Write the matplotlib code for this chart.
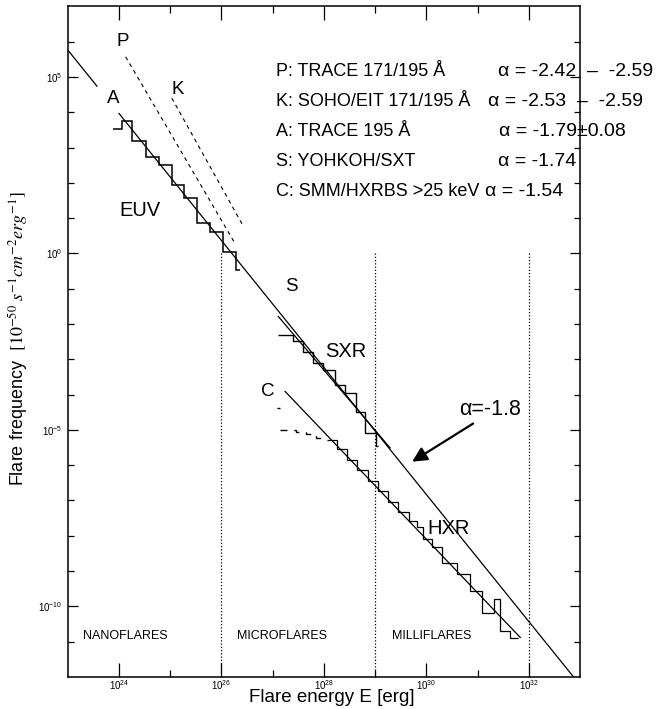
import numpy as np
import matplotlib
matplotlib.use("Agg")
import matplotlib.pyplot as plt
from matplotlib.ticker import FixedLocator, NullFormatter, FixedFormatter

plt.rcParams['font.family'] = ['Liberation Sans', 'DejaVu Sans']
plt.rcParams['mathtext.fontset'] = 'custom'
plt.rcParams['mathtext.rm'] = 'Liberation Sans'
plt.rcParams['mathtext.it'] = 'Liberation Sans:italic'
plt.rcParams['mathtext.bf'] = 'Liberation Sans:bold'

# ---------------- data (log10 energy [erg], log10 frequency) ----------------
# A: TRACE 195 A histogram
A_EDGES = [23.89, 24.05, 24.26, 24.52, 24.78, 25.03, 25.27, 25.52, 25.78, 26.03, 26.28, 26.36]
A_LOGN = [3.52, 3.76, 3.17, 2.73, 2.51, 1.94, 1.58, 0.86, 0.62, 0.05, -0.46]

# S: Yohkoh/SXT histogram
S_EDGES = [27.11, 27.40, 27.60, 27.79, 27.99, 28.21, 28.41, 28.62, 28.80, 29.01, 29.06]
S_LOGN = [-2.32, -2.49, -2.78, -3.10, -3.29, -3.72, -3.95, -4.50, -5.09, -5.47]

# C: SMM/HXRBS histogram (incomplete low-energy part, dashed)
C_FIRST_EDGES = [27.09, 27.15]
C_FIRST_LOGN = [-4.39]
C_DASH_EDGES = [27.15, 27.45, 27.65, 27.85, 28.05]
C_DASH_LOGN = [-4.99, -5.06, -5.12, -5.22]
C_EDGES = [28.05, 28.25, 28.45, 28.65, 28.85, 29.05, 29.25, 29.45, 29.65, 29.81,
           29.94, 30.10, 30.30, 30.59, 30.85, 31.08, 31.31, 31.43, 31.63, 31.79]
C_LOGN = [-5.28, -5.55, -5.86, -6.14, -6.46, -6.74, -7.05, -7.33, -7.58, -7.75,
          -8.08, -8.31, -8.77, -9.08, -9.55, -10.18, -9.80, -10.69, -10.89]

# power-law fit lines (end points)
ALPHA_LINE1_E = [23.0, 23.57]
ALPHA_LINE1_N = [5.763, 4.737]
ALPHA_LINE2_E = [24.0, 32.87]
ALPHA_LINE2_N = [3.963, -12.0]
P_LINE_E = [24.13, 26.26]
P_LINE_N = [5.57, 0.29]
K_LINE_E = [25.03, 26.43]
K_LINE_N = [4.40, 0.76]
S_LINE_E = [27.11, 29.29]
S_LINE_N = [-1.79, -5.51]
C_LINE_E = [27.24, 31.83]
C_LINE_N = [-3.91, -10.88]

# regime boundaries
BOUND_E = [26, 29, 32]
BOUND_TOP = [0, 0, 0]

# legend texts
LEG_NAMES = ["P: TRACE 171/195 Å", "K: SOHO/EIT 171/195 Å", "A: TRACE 195 Å",
             "S: YOHKOH/SXT", "C: SMM/HXRBS >25 keV"]
LEG_ALPHAS = ["α = -2.42  –  -2.59", "α = -2.53  –  -2.59", "α = -1.79±0.08",
              "α = -1.74", "α = -1.54"]

X_TICKS = [24, 26, 28, 30, 32]
X_MINOR = [25, 27, 29, 31]
Y_TICKS = [5, 0, -5, -10]
Y_MINOR = [6, 4, 3, 2, 1, -1, -2, -3, -4, -6, -7, -8, -9, -11]

# ---------------- figure ----------------
W, H = 659, 709
fig = plt.figure(figsize=(W / 100, H / 100), dpi=100)
L, R, T, B = 67.75, 580.25, 6.3, 677.0
ax = fig.add_axes([L / W, 1 - B / H, (R - L) / W, (B - T) / H])
ax.set_xscale('log')
ax.set_yscale('log')
ax.set_xlim(1e23, 1e33)
ax.set_ylim(1e-12, 1e7)

p = lambda v: 10.0 ** np.asarray(v, dtype=float)
lw = 0.9

# fit lines
ax.plot(p(ALPHA_LINE1_E), p(ALPHA_LINE1_N), color='black', lw=lw)
ax.plot(p(ALPHA_LINE2_E), p(ALPHA_LINE2_N), color='black', lw=lw)
ax.plot(p(P_LINE_E), p(P_LINE_N), color='black', lw=0.8, ls=(0, (3.5, 3.5)))
ax.plot(p(K_LINE_E), p(K_LINE_N), color='black', lw=0.8, ls=(0, (3.5, 3.5)))
ax.plot(p(S_LINE_E), p(S_LINE_N), color='black', lw=lw)
ax.plot(p(C_LINE_E), p(C_LINE_N), color='black', lw=lw)

# histograms
ax.stairs(p(A_LOGN), p(A_EDGES), baseline=None, color='black', lw=1.1)
ax.stairs(p(S_LOGN), p(S_EDGES), baseline=None, color='black', lw=1.0)
ax.stairs(p(C_FIRST_LOGN), p(C_FIRST_EDGES), baseline=None, color='black', lw=1.0)
ax.stairs(p(C_DASH_LOGN), p(C_DASH_EDGES), baseline=None, color='black', lw=1.0,
          ls=(0, (5, 5)))
ax.stairs(p(C_LOGN), p(C_EDGES), baseline=None, color='black', lw=0.9)

# regime boundaries
ax.vlines(p(BOUND_E), p(BOUND_TOP), 1e-12, colors='black', linestyles=(0, (1, 1.6)), lw=0.9)

# labels in the plot
for txt, le, ln, fs in [("P", 24.07, 5.99, 13.5), ("K", 25.15, 4.63, 13.5),
                        ("A", 23.88, 4.40, 13.5), ("EUV", 24.41, 1.21, 14.5),
                        ("S", 27.36, -0.94, 13.5), ("SXR", 28.43, -2.78, 14.5),
                        ("C", 26.91, -3.92, 13.5), ("HXR", 30.44, -7.80, 14.5)]:
    ax.text(10**le, 10**ln, txt, fontsize=fs, ha='center', va='center')
ax.text(10**24.13, 10**-10.85, "NANOFLARES", fontsize=9, ha='center', va='center')
ax.text(10**27.18, 10**-10.85, "MICROFLARES", fontsize=9, ha='center', va='center')
ax.text(10**30.10, 10**-10.85, "MILLIFLARES", fontsize=9, ha='center', va='center')

ax.annotate("", xy=(10**29.72, 10**-5.90), xytext=(10**30.91, 10**-4.82),
            arrowprops=dict(arrowstyle='-|>', color='black', lw=1.6,
                            mutation_scale=22, shrinkA=0, shrinkB=0))
ax.text(10**31.24, 10**-4.43, "α=-1.8", fontsize=15.5, ha='center', va='center')

# legend block
row_y = [71, 101, 131, 162, 192]
alpha_x = [498, 488, 499, 498, 485]
for name, al, yy, ax_ in zip(LEG_NAMES, LEG_ALPHAS, row_y, alpha_x):
    fig.text(276 / W, 1 - yy / H, name, fontsize=13, ha='left', va='center')
    fig.text(ax_ / W, 1 - yy / H, al, fontsize=14, ha='left', va='center')

# ticks
ax.xaxis.set_major_locator(FixedLocator(p(X_TICKS)))
ax.xaxis.set_major_formatter(FixedFormatter([r"$10^{%d}$" % v for v in X_TICKS]))
ax.xaxis.set_minor_locator(FixedLocator(p(X_MINOR)))
ax.xaxis.set_minor_formatter(NullFormatter())
ax.yaxis.set_major_locator(FixedLocator(p(Y_TICKS)))
ax.yaxis.set_major_formatter(FixedFormatter([r"$10^{%d}$" % v for v in Y_TICKS]))
ax.yaxis.set_minor_locator(FixedLocator(p(Y_MINOR)))
ax.yaxis.set_minor_formatter(NullFormatter())
ax.tick_params(axis='x', which='major', direction='in', length=10, width=0.9,
               top=True, labelsize=7, pad=1)
ax.tick_params(axis='x', which='minor', direction='in', length=5, width=0.9, top=True)
ax.tick_params(axis='y', which='major', direction='in', length=7.5, width=0.9,
               right=True, labelsize=7, pad=4)
ax.tick_params(axis='y', which='minor', direction='in', length=4.5, width=0.9, right=True)
for s in ax.spines.values():
    s.set_linewidth(1.1)

# axis titles
fig.text(332 / W, 1 - 698 / H, "Flare energy E [erg]", fontsize=13.5, ha='center', va='center')
yl = fig.text(18 / W, 1 - 339 / H,
              r"Flare frequency  $[10^{-50}\ s^{-1}cm^{-2}erg^{-1}]$",
              fontsize=13, ha='center', va='center', rotation=90)
yl.set_math_fontfamily('stix')

fig.savefig("out.png", dpi=100)
